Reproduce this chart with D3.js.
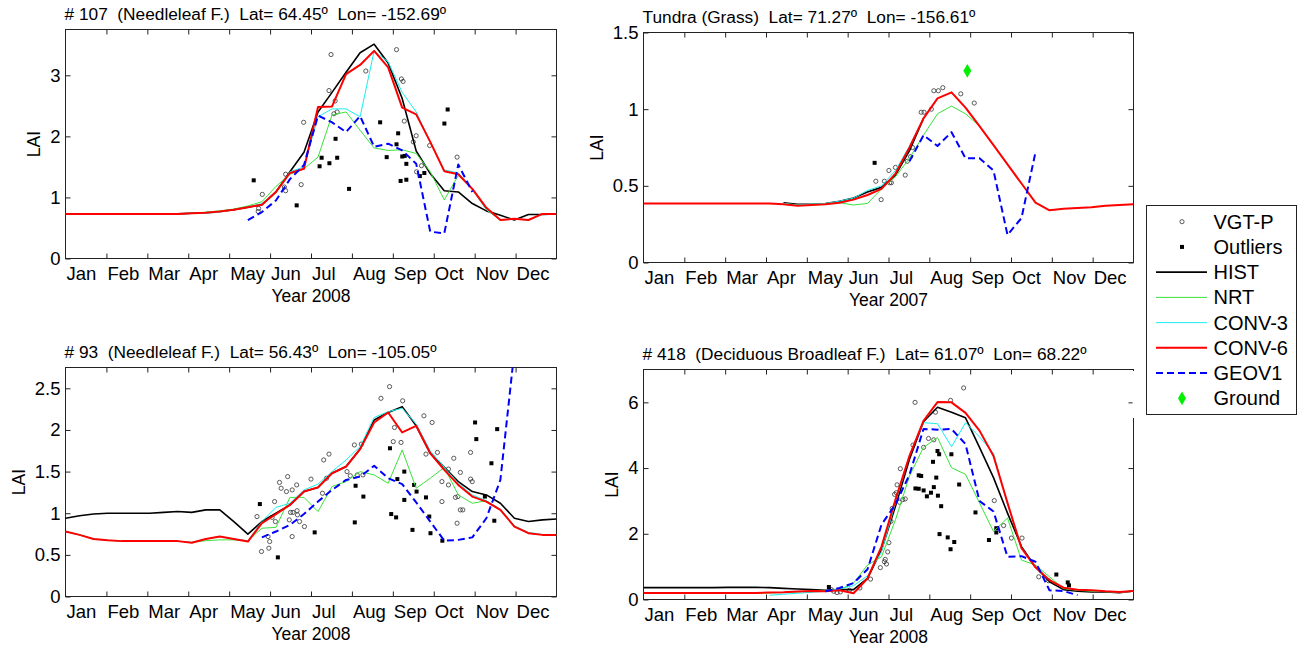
<!DOCTYPE html>
<html>
<head>
<meta charset="utf-8">
<script src="https://cdn.jsdelivr.net/npm/d3@7/dist/d3.min.js"></script>
<style>
  body { margin: 0; background: #fff; }
  svg { display: block; }
  text { font-family: "Liberation Sans", Arial, sans-serif; fill: #000; }
  .tick text { font-size: 18.5px; }
  .tick line { stroke: #222; }
  .title { font-size: 17.3px; white-space: pre; }
  .lab { font-size: 17.5px; }
  .leg { font-size: 20px; }
</style>
</head>
<body>
<div class="root"></div>
<script>
var months = ['Jan', 'Feb', 'Mar', 'Apr', 'May', 'Jun', 'Jul', 'Aug', 'Sep', 'Oct', 'Nov', 'Dec'];
var legendNames = ['VGT-P', 'Outliers', 'HIST', 'NRT', 'CONV-3', 'CONV-6', 'GEOV1', 'Ground'];

// 36 dekads per year, null = no value
// panel 1 : # 107 Needleleaf, 2008
var p1Hist  = [0.73,0.73,0.73,0.73,0.73,0.73,0.73,0.73,0.73, 0.74,0.75,0.77, 0.80,0.84,0.88, 1.09,1.42,1.74, 2.40,2.72,3.05, 3.37,3.51,3.20, 2.62,1.76,1.39, 1.11,1.09,0.90, 0.78,0.71,0.63, 0.72,0.72,0.73];
var p1Nrt   = [0.73,0.73,0.73,0.73,0.73,0.73,0.73,0.73,0.73, 0.74,0.76,0.78, 0.81,0.86,0.93, 1.18,1.38,1.47, 1.66,2.35,2.40, 2.10,1.81,1.77, 1.78,1.72,1.42, 0.96,1.36,1.13, 0.80,0.63,0.65, 0.63,0.73,0.73];
var p1Conv3 = [0.73,0.73,0.73,0.73,0.73,0.73,0.73,0.73,0.73, 0.74,0.74,0.76, 0.80,0.84,0.90, 1.09,1.42,1.50, 2.32,2.45,2.45, 2.32,3.40,3.22, 2.72,2.40,1.91, 1.45,1.40,1.13, 0.80,0.63,0.65, 0.63,0.73,0.73];
var p1Conv6 = [0.73,0.73,0.73,0.73,0.73,0.73,0.73,0.73,0.73, 0.74,0.75,0.77, 0.80,0.84,0.88, 1.09,1.40,1.47, 2.48,2.49,3.02, 3.17,3.40,3.13, 2.47,2.36,1.91, 1.43,1.38,1.14, 0.83,0.63,0.65, 0.63,0.73,0.73];
var p1Geov1 = [null,null,null,null,null,null,null,null,null,null,null,null,null, 0.63,0.76, 0.95,1.30,1.53, 2.34,2.23,2.07, 2.33,1.83,1.88, 1.77,1.55,0.44, 0.41,1.54,1.09, null,null,null,null,null,null];
var p1Vgt = [[4.81,1.05],[4.72,0.82],[4.71,0.77],[5.35,1.17],[5.38,1.11],[5.38,1.38],[5.76,1.21],[5.82,2.23],
  [6.44,2.75],[6.49,3.34],[6.59,2.58],[6.56,2.37],[6.64,2.40],[7.34,3.07],[8.09,3.42],[8.21,2.94],[8.25,2.90],
  [8.28,2.25],[8.50,1.91],[8.57,2.01],[8.90,1.85],[8.58,1.42],[8.70,1.52],[9.57,1.66]];
var p1Out = [[4.60,1.28],[5.65,0.87],[6.26,1.65],[6.21,1.51],[6.45,1.56],[6.64,1.65],[6.60,1.96],[6.93,1.14],
  [7.69,2.23],[7.85,1.66],[8.13,2.05],[8.09,1.87],[8.19,1.27],[8.33,1.29],[8.23,1.67],[8.29,1.68],[8.33,1.55],
  [8.66,1.35],[8.77,1.40],[9.26,2.21],[9.34,2.44]];

// panel 2 : Tundra, 2007
var p2Hist  = [null,null,null,null,null,null,null,null,null,null, 0.39,0.38,0.38,0.385,0.40,0.42,0.46,0.49,0.57,0.73,0.94, null,null,null,null,null,null,null,null,null,null,null,null,null,null,null];
var p2Nrt   = [null,null,null,null,null,null,null,null,null,null, 0.385,0.375,0.38,0.385,0.39,0.375,0.385,0.48,0.56,0.68,0.83,0.97,1.02,0.97,0.89, null,null,null,null,null,null,null,null,null,null,null];
var p2Conv3 = [null,null,null,null,null,null,null,null,null,null, 0.385,0.375,0.38,0.385,0.40,0.42,0.47,0.50,0.60,0.76,0.94, null,null,null,null,null,null,null,null,null,null,null,null,null,null,null];
var p2Conv6 = [0.385,0.385,0.385,0.385,0.385,0.385,0.385,0.385,0.385,0.385, 0.38,0.37,0.375,0.38,0.39,0.41,0.44,0.48,0.58,0.75,0.94,1.07,1.11,1.01,0.89,0.765,0.64,0.515,0.39,0.34,0.35,0.355,0.36,0.37,0.375,0.38];
var p2Geov1 = [null,null,null,null,null,null,null,null,null,null,null,null,null,null,null,null,null,null,null, 0.66,0.83,0.76,0.85,0.68,0.68,0.60,0.18,0.29,0.72, null,null,null,null,null,null,null];
var p2Vgt = [[5.69,0.53],[5.82,0.41],[5.90,0.53],[6.01,0.60],[6.03,0.52],[6.07,0.52],[6.17,0.62],[6.41,0.57],
  [6.46,0.66],[6.54,0.69],[6.59,0.75],[6.80,0.98],[6.87,0.98],[7.05,1.00],[7.11,1.12],[7.22,1.12],[7.33,1.14],
  [7.77,1.10],[8.10,1.04]];
var p2Out = [[5.66,0.65]];
var p2Ground = [[7.93,1.25]];

// panel 3 : # 93 Needleleaf, 2008
var p3Hist  = [0.94,0.97,0.99, 1.00,1.00,1.00, 1.00,1.01,1.02, 1.01,1.04,1.04, 0.90,0.75,0.90, 1.00,1.10,1.26, 1.31,1.48,1.56, 1.77,2.12,2.21, 2.28,2.05,1.72, 1.55,1.38,1.26, 1.22,1.12,0.94, 0.90,0.92,0.93];
var p3Nrt   = [0.78,0.74,0.69, 0.675,0.665,0.665, 0.665,0.665,0.665, 0.65,0.67,0.68, 0.68,0.67,0.82, 0.83,1.19,1.19, 1.02,1.32,1.38, 1.50,1.46,1.36, 1.76,1.30,1.42, 1.55,1.22,1.12, 1.15,1.04,0.84, 0.76,0.74,0.74];
var p3Conv3 = [0.78,0.74,0.69, 0.675,0.665,0.665, 0.665,0.665,0.665, 0.65,0.69,0.72, 0.69,0.67,0.90, 1.07,1.12,1.28, 1.35,1.50,1.64, 1.80,2.15,2.22, 2.26,2.07,1.75, 1.55,1.36,1.22, 1.15,1.05,0.85, 0.77,0.745,0.745];
var p3Conv6 = [0.78,0.74,0.69, 0.675,0.665,0.665, 0.665,0.665,0.665, 0.645,0.69,0.72, 0.69,0.66,0.88, 0.99,1.10,1.26, 1.31,1.48,1.56, 1.77,2.09,2.21, 1.97,2.05,1.72, 1.52,1.34,1.20, 1.14,1.04,0.84, 0.76,0.74,0.74];
var p3Geov1 = [null,null,null,null,null,null,null,null,null,null,null,null,null,null, 0.71,0.78,0.86,0.99,1.14,1.28,1.40,1.44,1.57,1.42,1.35,1.13,0.90,0.67,0.68,0.71,0.94,1.40,2.95, null,null,null];
var p3Vgt = [[4.68,0.96],[4.79,0.54],[4.97,0.58],[4.99,0.66],[4.95,0.72],[5.05,0.95],[5.11,1.14],[5.13,0.90],
  [5.23,1.37],[5.27,1.30],[5.40,1.26],[5.43,1.44],[5.54,1.28],[5.65,1.34],[5.50,1.01],[5.56,1.01],[5.66,1.03],
  [5.67,0.98],[5.47,0.92],[5.72,0.90],[5.54,0.72],[5.84,0.84],[6.00,1.41],[6.28,1.24],[6.31,1.64],[6.44,1.71],
  [6.38,1.42],[6.88,1.50],[6.96,1.45],[7.06,1.82],[7.13,1.46],[7.23,1.83],[7.27,1.46],[7.71,2.38],[7.92,2.52],
  [8.04,2.03],[8.01,1.86],[8.20,1.85],[8.24,2.35],[8.76,2.17],[8.96,2.09],[8.81,1.71],[9.09,1.73],[9.20,1.38],
  [9.20,1.14],[9.36,1.34],[9.36,1.53],[9.49,1.66],[9.53,1.19],[9.59,1.20],[9.65,1.49],[9.65,1.04],[9.71,1.04],
  [9.57,0.88],[9.90,1.73],[9.90,1.41],[9.94,1.38]];
var p3Out = [[4.75,1.11],[5.19,0.47],[6.09,0.77],[7.07,0.89],[7.09,1.33],[7.28,1.20],[7.93,1.78],[7.96,0.99],
  [8.08,0.95],[8.11,1.41],[8.28,1.50],[8.28,1.16],[8.48,0.80],[8.52,1.34],[8.58,1.26],[8.81,1.19],[8.89,0.96],
  [8.92,0.76],[9.21,0.67],[10.01,2.09],[10.04,1.89],[10.41,1.60],[10.25,1.20],[10.48,0.91],[10.55,2.01]];

// panel 4 : # 418 Deciduous Broadleaf, 2008
var p4Hist  = [0.36,0.36,0.36, 0.36,0.36,0.36, 0.37,0.37,0.37, 0.36,0.34,0.32, 0.30,0.28,0.30, 0.30,0.64,1.51, 2.84,4.27,5.41, 5.85,5.70,5.53, 4.63,3.71,2.63, 1.61,0.99,0.54, 0.30,0.25,0.23, 0.23,0.21,0.26];
var p4Nrt   = [0.20,0.20,0.20, 0.20,0.20,0.20, 0.20,0.20,0.20, 0.20,0.21,0.23, 0.25,0.27,0.30, 0.50,1.05,1.30, 2.43,3.76,4.63, 4.93,4.01,3.81, 2.94,2.07,2.48, 1.20,1.05,0.69, 0.33,0.28,0.25, 0.24,0.22,0.25];
var p4Conv3 = [null,null,null,null,null,null,null,null,null, 0.13,0.16,0.19, 0.22,0.25,0.33, 0.42,0.72,1.45, 2.95,4.40,5.38, 5.35,4.65,5.38, 4.95,4.45,2.90, 1.58,0.99,0.58, 0.35,0.29,0.27, 0.24,0.22,0.25];
var p4Conv6 = [0.20,0.20,0.20, 0.20,0.20,0.20, 0.20,0.20,0.20, 0.21,0.22,0.24, 0.26,0.25,0.28, 0.19,0.64,1.61, 3.04,4.37,5.44, 6.01,6.00,5.68, 5.14,4.37,2.94, 1.56,0.98,0.59, 0.36,0.30,0.28, 0.25,0.23,0.26];
var p4Geov1 = [null,null,null,null,null,null,null,null,null,null,null,null,null, 0.25,0.35,0.50,0.92,2.28,2.90,3.80,5.19,5.17,5.19,4.73,3.00,2.68,1.30,1.32,1.15,0.28,0.26,0.13, null,null,null,null];
var p4Vgt = [[4.60,0.30],[4.66,0.25],[4.74,0.21],[4.82,0.23],[5.04,0.28],[5.30,0.35],[5.56,0.62],[5.80,0.97],
  [5.90,1.15],[5.92,1.22],[5.95,1.08],[5.98,1.45],[6.01,1.73],[6.06,2.38],[6.09,2.77],[6.15,3.20],[6.19,3.25],
  [6.21,3.49],[6.29,3.98],[6.27,2.96],[6.35,3.04],[6.41,3.06],[6.60,4.70],[6.65,6.00],[6.86,4.63],[6.98,4.90],
  [7.11,4.86],[7.15,5.70],[7.52,6.06],[7.84,6.44],[8.59,3.01],[8.82,2.25],[9.01,1.87],[9.27,1.87],[9.68,0.69],
  [9.92,0.57]];
var p4Out = [[4.54,0.38],[6.74,3.78],[6.80,3.76],[6.66,3.38],[6.74,3.37],[6.86,3.32],[6.94,3.14],[7.04,3.25],
  [7.11,3.42],[7.09,4.19],[7.17,3.71],[7.20,4.52],[7.24,4.42],[7.21,3.16],[7.29,2.84],[7.25,1.99],[7.45,1.89],
  [7.52,1.53],[7.61,1.75],[7.54,4.42],[7.73,3.50],[8.13,2.65],[8.46,1.81],[8.64,2.04],[8.64,2.17],[10.11,0.76],
  [10.39,0.52],[10.42,0.43]];

var lineStyles = {
  hist:  {color: '#000000', width: 1.6, dash: null},
  nrt:   {color: '#3ae23a', width: 1,   dash: null},
  conv3: {color: '#1aeeee', width: 1,   dash: null},
  conv6: {color: '#ff0000', width: 2,   dash: null},
  geov1: {color: '#0000ff', width: 2,   dash: '7,4'}
};

function drawPanel(svg, p) {
  var x = d3.scaleLinear().domain([0, 12]).range([p.left, p.right]);
  var xd = d3.scaleLinear().domain([0, 35]).range([p.left, p.right]);
  var y = d3.scaleLinear().domain([0, p.yMax]).range([p.bottom, p.top]);

  svg.append('clipPath').attr('id', 'clip' + p.id)
    .append('rect')
      .attr('x', p.left).attr('y', p.top)
      .attr('width', p.right - p.left).attr('height', p.bottom - p.top);

  // tick marks, MATLAB style: inside, on all four sides
  var monthTicks = d3.range(1, 12);
  svg.append('g').attr('transform', 'translate(0,' + p.bottom + ')')
    .call(d3.axisBottom(x).tickValues(monthTicks).tickSize(-5).tickFormat(''))
    .call(function(g) { g.select('.domain').remove(); });
  svg.append('g').attr('transform', 'translate(0,' + p.top + ')')
    .call(d3.axisTop(x).tickValues(monthTicks).tickSize(-5).tickFormat(''))
    .call(function(g) { g.select('.domain').remove(); });

  var yAxis = svg.append('g').attr('transform', 'translate(' + p.left + ',0)')
    .call(d3.axisLeft(y).tickValues(p.yTicks).tickSize(-5).tickPadding(5)
          .tickFormat(function(d) { return String(d); }))
    .call(function(g) { g.select('.domain').remove(); });
  svg.append('g').attr('transform', 'translate(' + p.right + ',0)')
    .call(d3.axisRight(y).tickValues(p.yTicks).tickSize(-5).tickFormat(''))
    .call(function(g) { g.select('.domain').remove(); });

  // month names, left aligned on the month boundary
  svg.append('g').attr('transform', 'translate(0,' + p.bottom + ')')
    .call(d3.axisBottom(x).tickValues(d3.range(0, 12)).tickSize(0)
          .tickFormat(function(d) { return months[d]; }))
    .call(function(g) {
      g.select('.domain').remove();
      g.selectAll('text').attr('text-anchor', 'start').attr('x', 0.5).attr('y', 21.5).attr('dy', 0);
    });

  // box
  svg.append('rect')
    .attr('x', p.left).attr('y', p.top)
    .attr('width', p.right - p.left).attr('height', p.bottom - p.top)
    .attr('fill', 'none').attr('stroke', '#222').attr('stroke-width', 1);

  var plot = svg.append('g').attr('clip-path', 'url(#clip' + p.id + ')');

  plot.selectAll('circle.vgt')
    .data(p.vgt)
    .enter().append('circle')
      .attr('class', 'vgt')
      .attr('cx', function(d) { return x(d[0]); })
      .attr('cy', function(d) { return y(d[1]); })
      .attr('r', 2.1)
      .attr('fill', 'none').attr('stroke', '#333').attr('stroke-width', 0.8);

  plot.selectAll('rect.out')
    .data(p.out)
    .enter().append('rect')
      .attr('class', 'out')
      .attr('x', function(d) { return x(d[0]) - 2; })
      .attr('y', function(d) { return y(d[1]) - 2; })
      .attr('width', 4).attr('height', 4)
      .attr('fill', '#000');

  var line = d3.line()
    .defined(function(d) { return d !== null; })
    .x(function(d, i) { return xd(i); })
    .y(function(d) { return y(d); });

  ['hist', 'nrt', 'conv3', 'conv6', 'geov1'].forEach(function(k) {
    var s = lineStyles[k];
    plot.append('path')
      .datum(p.series[k])
      .attr('d', line)
      .attr('fill', 'none')
      .attr('stroke', s.color)
      .attr('stroke-width', s.width)
      .attr('stroke-dasharray', s.dash)
      .attr('stroke-linejoin', 'round');
  });

  if (p.ground) {
    plot.selectAll('path.ground')
      .data(p.ground)
      .enter().append('path')
        .attr('class', 'ground')
        .attr('transform', function(d) { return 'translate(' + x(d[0]) + ',' + y(d[1]) + ')'; })
        .attr('d', d3.symbol().type(d3.symbolDiamond).size(55))
        .attr('fill', '#00f000');
  }

  // labels
  svg.append('text')
    .attr('class', 'title')
    .attr('x', p.left - 1)
    .attr('y', p.top - 10)
    .text(p.title);

  svg.append('text')
    .attr('class', 'lab')
    .attr('x', (p.left + p.right) / 2)
    .attr('y', p.bottom + 43.5)
    .attr('text-anchor', 'middle')
    .text(p.xLabel);

  var maxW = 0;
  yAxis.selectAll('text').each(function() {
    maxW = Math.max(maxW, this.getComputedTextLength());
  });
  var lx = p.left - 5 - maxW - 10;
  svg.append('text')
    .attr('class', 'lab')
    .attr('transform', 'translate(' + lx + ',' + ((p.top + p.bottom) / 2) + ') rotate(-90)')
    .attr('text-anchor', 'middle')
    .text('LAI');
}

function drawLegend(svg) {
  var bx = 1146.5, by = 205.5, bw = 150, bh = 209;
  // legend background hides the right border of the lower right axes
  svg.append('rect').attr('x', 1132.6).attr('y', 371).attr('width', 14).attr('height', 47).attr('fill', '#fff');
  svg.append('rect')
    .attr('x', bx).attr('y', by).attr('width', bw).attr('height', bh)
    .attr('fill', '#fff').attr('stroke', '#222').attr('stroke-width', 1);

  var row = d3.scalePoint().domain(legendNames).range([221.7, 398.3]);
  var keys = {HIST: 'hist', NRT: 'nrt', 'CONV-3': 'conv3', 'CONV-6': 'conv6', GEOV1: 'geov1'};

  legendNames.forEach(function(name) {
    var yy = row(name);
    if (keys[name]) {
      var s = lineStyles[keys[name]];
      svg.append('line')
        .attr('x1', 1156).attr('x2', 1207).attr('y1', yy).attr('y2', yy)
        .attr('stroke', s.color).attr('stroke-width', s.width)
        .attr('stroke-dasharray', s.dash);
    } else if (name === 'VGT-P') {
      svg.append('circle').attr('cx', 1182).attr('cy', yy).attr('r', 2.1)
        .attr('fill', 'none').attr('stroke', '#333').attr('stroke-width', 0.8);
    } else if (name === 'Outliers') {
      svg.append('rect').attr('x', 1180).attr('y', yy - 2).attr('width', 4).attr('height', 4).attr('fill', '#000');
    } else {
      svg.append('path')
        .attr('transform', 'translate(1182,' + yy + ')')
        .attr('d', d3.symbol().type(d3.symbolDiamond).size(55))
        .attr('fill', '#00f000');
    }
    svg.append('text')
      .attr('class', 'leg')
      .attr('x', 1213.5).attr('y', yy)
      .attr('dy', '0.35em')
      .text(name);
  });
}

function runChart() {
  var w = 1300, h = 653;
  var svg = d3.select('.root').append('svg').attr('width', w).attr('height', h);

  var panels = [
    {id: 1, left: 65.5, right: 556.5, top: 29.5, bottom: 258.5, yMax: 3.75, yTicks: [0, 1, 2, 3],
     title: '# 107  (Needleleaf F.)  Lat= 64.45\u00ba  Lon= -152.69\u00ba', xLabel: 'Year 2008',
     series: {hist: p1Hist, nrt: p1Nrt, conv3: p1Conv3, conv6: p1Conv6, geov1: p1Geov1},
     vgt: p1Vgt, out: p1Out},
    {id: 2, left: 643.5, right: 1133.5, top: 32.5, bottom: 262.5, yMax: 1.5, yTicks: [0, 0.5, 1, 1.5],
     title: 'Tundra (Grass)  Lat= 71.27\u00ba  Lon= -156.61\u00ba', xLabel: 'Year 2007',
     series: {hist: p2Hist, nrt: p2Nrt, conv3: p2Conv3, conv6: p2Conv6, geov1: p2Geov1},
     vgt: p2Vgt, out: p2Out, ground: p2Ground},
    {id: 3, left: 65.5, right: 556.5, top: 367.5, bottom: 596.5, yMax: 2.75, yTicks: [0, 0.5, 1, 1.5, 2, 2.5],
     title: '# 93  (Needleleaf F.)  Lat= 56.43\u00ba  Lon= -105.05\u00ba', xLabel: 'Year 2008',
     series: {hist: p3Hist, nrt: p3Nrt, conv3: p3Conv3, conv6: p3Conv6, geov1: p3Geov1},
     vgt: p3Vgt, out: p3Out},
    {id: 4, left: 643.5, right: 1133.5, top: 369.5, bottom: 599.5, yMax: 7, yTicks: [0, 2, 4, 6],
     title: '# 418  (Deciduous Broadleaf F.)  Lat= 61.07\u00ba  Lon= 68.22\u00ba', xLabel: 'Year 2008',
     series: {hist: p4Hist, nrt: p4Nrt, conv3: p4Conv3, conv6: p4Conv6, geov1: p4Geov1},
     vgt: p4Vgt, out: p4Out}
  ];

  panels.forEach(function(p) { drawPanel(svg, p); });
  drawLegend(svg);
}

window.onload = function() {
  runChart();
};
</script>
</body>
</html>
